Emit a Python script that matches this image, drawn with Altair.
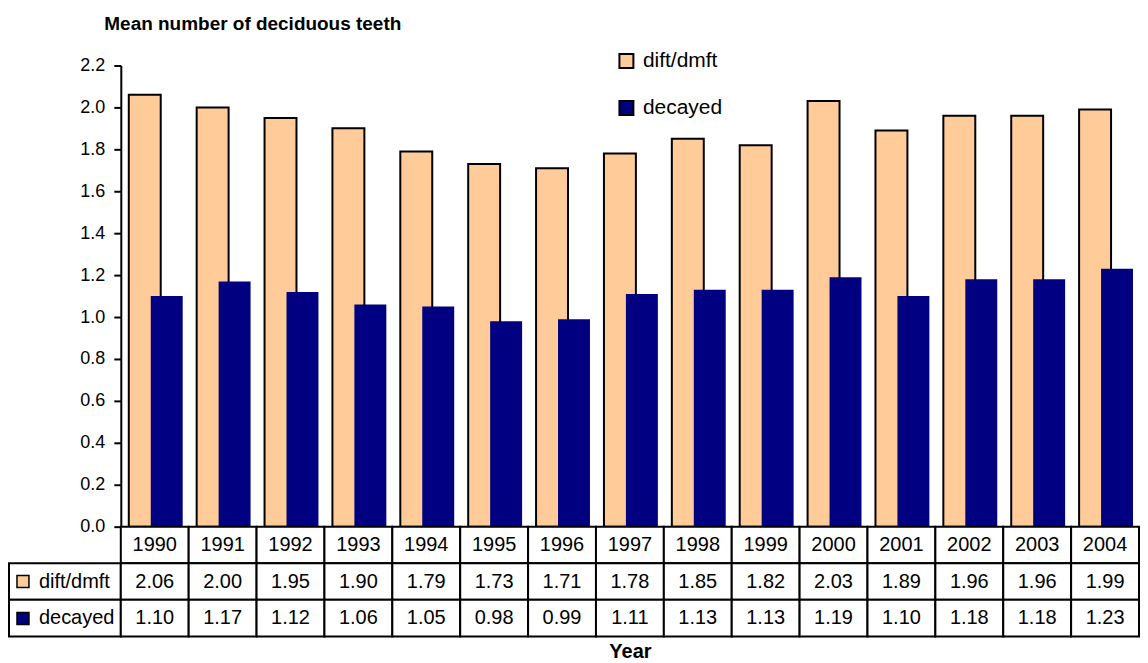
import altair as alt
import pandas as pd

years = ["1990", "1991", "1992", "1993", "1994", "1995", "1996", "1997",
         "1998", "1999", "2000", "2001", "2002", "2003", "2004"]
dift_dmft = [2.06, 2.00, 1.95, 1.90, 1.79, 1.73, 1.71, 1.78,
             1.85, 1.82, 2.03, 1.89, 1.96, 1.96, 1.99]
decayed = [1.10, 1.17, 1.12, 1.06, 1.05, 0.98, 0.99, 1.11,
           1.13, 1.13, 1.19, 1.10, 1.18, 1.18, 1.23]
series_names = ["dift/dmft", "decayed"]
series_colors = ["#FFCC99", "#000080"]
row_names = ["Year", "dift/dmft", "decayed"]
y_ticks = [0.0, 0.2, 0.4, 0.6, 0.8, 1.0, 1.2, 1.4, 1.6, 1.8, 2.0, 2.2]

n = len(years)
bars_df = pd.DataFrame({
    "year": years * 2,
    "series": [series_names[0]] * n + [series_names[1]] * n,
    "value": dift_dmft + decayed,
})
cells_df = pd.DataFrame({
    "year": years * 3,
    "row": [row_names[0]] * n + [row_names[1]] * n + [row_names[2]] * n,
    "text": years + [f"{v:.2f}" for v in dift_dmft] + [f"{v:.2f}" for v in decayed],
})
labels_df = pd.DataFrame({"row": series_names, "series": series_names})

year_scale = alt.Scale(domain=years, paddingInner=0, paddingOuter=0)
row_scale = alt.Scale(domain=row_names, paddingInner=0, paddingOuter=0)
color_scale = alt.Scale(domain=series_names, range=series_colors)

# bars
base = alt.Chart(bars_df).encode(
    x=alt.X("year:N", scale=year_scale, axis=None),
    y=alt.Y("value:Q", scale=alt.Scale(domain=[0, 2.2], nice=False),
            axis=alt.Axis(values=y_ticks, format=".1f", grid=False,
                          title="Mean number of deciduous teeth",
                          titleAngle=0, titleAlign="left", titleBaseline="alphabetic",
                          titleX=-17, titleY=-36, titleFontSize=19, titleFontWeight="bold",
                          labelFontSize=18, labelPadding=9, tickSize=7, tickWidth=2,
                          tickColor="black", domainColor="black", domainWidth=2)),
    color=alt.Color("series:N", scale=color_scale,
                    legend=alt.Legend(orient="none", legendX=496, legendY=-15, title=None,
                                      symbolType="square", symbolSize=196,
                                      symbolStrokeColor="black", symbolStrokeWidth=2,
                                      labelFontSize=21, labelOffset=6, rowPadding=24,
                                      padding=0)),
)
front = base.transform_filter(alt.datum.series == "dift/dmft").mark_bar(
    width=32, xOffset=-10, stroke="black", strokeWidth=2)
back = base.transform_filter(alt.datum.series == "decayed").mark_bar(
    width=32, xOffset=12)
bars = alt.layer(front, back).properties(width=1020, height=462)

spacer = alt.Chart(pd.DataFrame({"blank": [""]})).mark_text().encode(
    text="blank:N").properties(width=112, height=462)

# left column of the data table
lab = alt.Chart(labels_df).encode(y=alt.Y("row:N", scale=row_scale, axis=None))
lab_cells = lab.mark_rect(fill="white", stroke="black", strokeWidth=2)
lab_keys = lab.mark_square(opacity=0).encode(
    fill=alt.Fill("series:N", scale=color_scale,
                  legend=alt.Legend(orient="none", legendX=4, legendY=45, title=None,
                                    symbolType="square", symbolSize=144, symbolOpacity=1,
                                    symbolStrokeColor="black", symbolStrokeWidth=1.5,
                                    labelFontSize=20, labelOffset=6, rowPadding=17,
                                    padding=0)))
labels = alt.layer(lab_cells, lab_keys).properties(width=112, height=110)

# data table
tb = alt.Chart(cells_df).encode(
    x=alt.X("year:N", scale=year_scale,
            axis=alt.Axis(labels=False, ticks=False, domain=False, title="Year",
                          titleFontSize=20, titleFontWeight="bold", titlePadding=5)),
    y=alt.Y("row:N", scale=row_scale, axis=None),
)
table = alt.layer(
    tb.mark_rect(fill="white", stroke="black", strokeWidth=2),
    tb.mark_text(fontSize=20, color="black").encode(text="text:N"),
).properties(width=1020, height=110)

chart = alt.concat(spacer, bars, labels, table, columns=2, spacing=0).resolve_scale(
    x="independent", y="independent", color="independent", fill="independent"
).properties(
    bounds="flush",
    padding={"left": 0, "top": 6, "right": 0, "bottom": 0},
).configure(font="Liberation Sans").configure_view(stroke=None).configure_axis(
    labelColor="black", titleColor="black"
).configure_legend(labelColor="black")

chart.save("out.html", embed_options={"renderer": "svg", "actions": False})
